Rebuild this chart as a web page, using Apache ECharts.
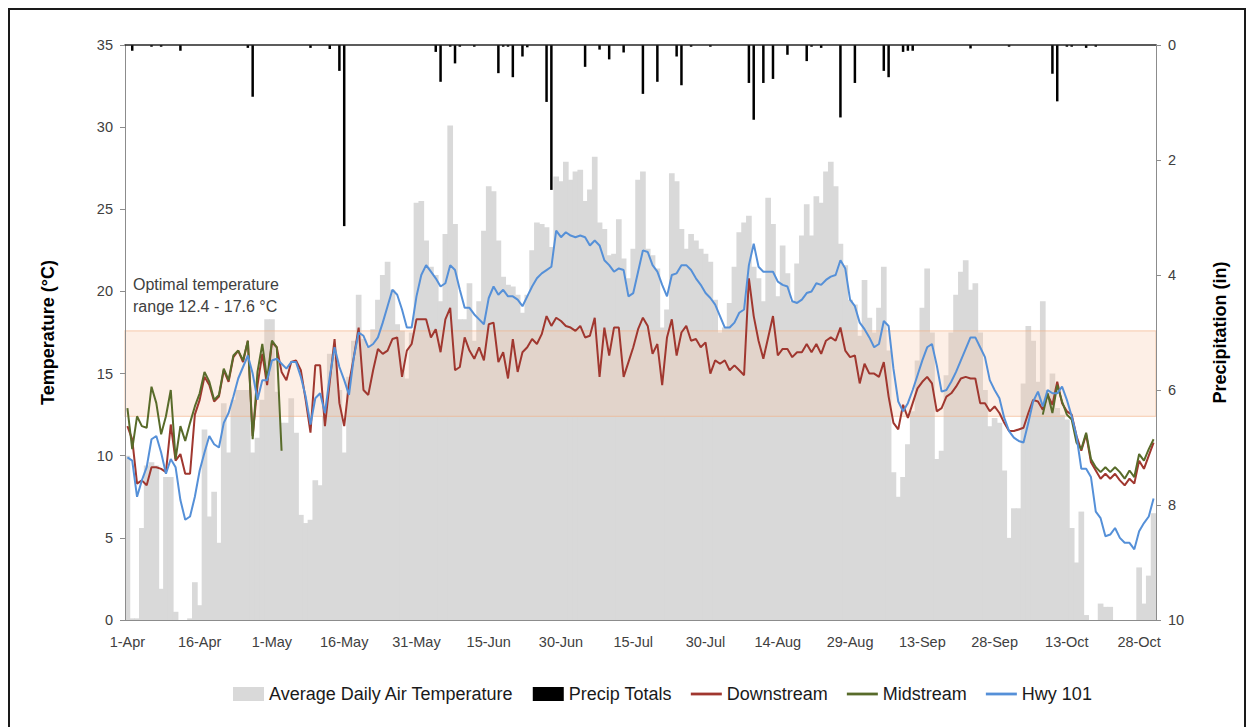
<!DOCTYPE html>
<html><head><meta charset="utf-8">
<script src="https://cdn.jsdelivr.net/npm/echarts@6/dist/echarts.min.js"></script>
<style>
html,body{margin:0;padding:0;background:#fff;}
#chart{position:absolute;left:0;top:0;width:1248px;height:727px;}
#frame{position:absolute;left:8px;top:8px;width:1238px;height:730px;border:2px solid #1a1a1a;border-bottom:none;box-sizing:border-box;pointer-events:none;}
</style></head><body>
<div id="chart"></div><div id="frame"></div>
<script>
// ---- categories: daily dates 1-Apr .. 31-Oct ----
const monthNames = ['Apr','May','Jun','Jul','Aug','Sep','Oct'];
const monthDays  = [30, 31, 30, 31, 31, 30, 31];
const dates = [];
monthNames.forEach((m, k) => { for (let d = 1; d <= monthDays[k]; d++) dates.push(d + '-' + m); });

// ---- Average daily air temperature (°C) ----
const airTemp = [
 10.0,0.1,0.1,5.6,9.4,9.6,9.4,1.9,8.7,8.7,
 0.5,0,0,0.1,2.3,0.9,11.6,6.3,7.8,4.7,
 13.2,10.2,13.4,14.0,14.0,14.0,10.2,11.1,13.4,18.3,
 18.3,13.9,12.0,12.0,13.5,11.4,6.4,5.9,6.1,8.5,
 8.2,12.4,16.2,16.0,14.0,10.2,14.8,17.0,19.8,17.1,
 16.6,17.7,19.5,21.0,21.8,20.1,18.0,17.6,14.7,17.5,
 25.4,25.5,23.1,21.5,21.0,19.4,23.5,30.1,24.1,18.3,
 18.3,20.5,17.0,19.4,23.7,26.4,26.1,23.1,20.9,20.4,
 20.3,19.8,18.7,19.8,22.5,24.2,24.1,23.9,22.7,27.0,
 26.7,27.9,26.8,27.3,27.4,25.5,26.2,28.2,24.2,23.8,
 22.2,22.3,24.4,22.0,20.8,22.6,26.8,27.3,22.6,22.2,
 21.4,17.8,18.9,27.2,26.7,23.8,22.6,23.5,23.1,22.6,
 22.3,21.8,19.5,17.5,17.8,19.3,21.5,23.6,24.2,24.6,
 21.5,20.8,19.4,25.7,24.1,19.7,22.8,21.1,19.4,21.7,
 23.4,25.3,23.4,25.8,25.4,27.3,27.9,26.4,22.9,21.6,
 19.5,19.2,17.3,20.7,18.4,17.5,19.0,21.5,16.4,9.0,
 7.5,8.7,10.7,12.7,15.8,19.0,21.4,17.5,9.8,10.3,
 14.9,17.5,19.8,21.2,21.9,20.1,20.5,17.5,14.0,11.8,
 12.3,12.0,9.1,5.0,6.8,6.8,14.4,17.9,17.0,14.5,
 19.4,14.0,15.0,12.9,12.5,12.2,5.6,3.5,6.6,0.3,
 0,0,1.0,0.8,0.8,0,0,0,0,0,
 3.2,1.0,2.7,6.5
];

// ---- Downstream water temperature (°C) ----
const downstream = [
 11.8,11.0,8.3,8.5,8.2,9.3,9.3,9.2,9.0,11.9,
 9.7,10.1,8.9,8.9,12.5,13.4,14.8,14.3,13.3,13.6,
 15.2,14.5,16.0,16.4,15.7,17.0,11.2,14.3,16.2,14.3,
 16.9,16.6,15.1,14.6,15.7,15.8,15.2,13.4,11.4,15.5,
 15.5,11.8,14.5,17.1,13.2,11.8,14.4,16.0,17.8,14.0,
 13.7,15.2,16.5,16.2,16.4,17.1,17.2,14.8,16.4,16.8,
 18.3,18.3,18.3,17.2,17.7,16.3,18.3,19.0,15.2,15.4,
 17.2,16.4,15.9,16.6,15.8,18.0,18.1,15.7,16.3,14.7,
 17.1,15.1,16.3,16.6,17.1,16.8,17.4,18.5,17.9,18.4,
 18.2,17.9,17.8,17.6,17.9,17.2,17.3,18.4,14.8,17.8,
 16.1,17.8,17.8,14.8,15.7,16.6,17.7,18.4,17.9,16.2,
 16.8,14.3,17.2,18.3,16.1,17.5,17.9,17.0,17.1,16.6,
 16.9,15.0,15.8,15.6,15.8,15.2,15.5,15.2,14.9,20.8,
 18.5,17.0,15.9,17.2,18.5,16.1,16.5,16.5,16.0,16.3,
 16.3,16.8,16.3,16.8,16.2,17.0,17.2,17.0,17.8,16.4,
 16.0,16.1,14.4,15.6,15.0,15.0,14.8,15.7,13.6,12.0,
 11.6,13.1,12.3,13.2,14.1,14.5,14.8,14.4,12.7,12.9,
 13.6,13.8,14.2,14.7,14.8,14.7,14.7,13.2,13.2,12.7,
 13.0,12.6,12.0,11.5,11.5,11.6,11.7,12.6,13.4,13.3,
 12.8,13.7,13.1,14.5,13.2,12.7,12.5,11.2,10.3,11.3,
 9.6,9.1,8.6,8.9,8.6,8.9,8.5,8.2,8.6,8.3,
 9.7,9.2,10.0,10.8
];

// ---- Midstream water temperature (°C): two logged periods ----
const midstreamSpring = [ // 1-Apr .. 3-May
 12.9,10.4,12.4,11.8,11.7,14.2,13.2,11.3,12.4,14.0,
 9.8,11.8,10.9,12.0,13.0,13.8,15.1,14.5,13.4,13.7,
 15.3,14.6,16.1,16.4,15.8,17.0,11.0,15.1,16.8,14.6,
 17.0,16.6,10.3
];
const midstreamFall = [ // 8-Oct .. 31-Oct
 12.5,13.8,12.6,14.3,13.3,12.5,12.2,10.8,10.4,11.4,
 9.8,9.3,9.0,9.3,9.0,9.3,9.0,8.6,9.1,8.7,
 10.1,9.7,10.4,11.0
];

// ---- Hwy 101 water temperature (°C) ----
const hwy101 = [
 9.9,9.7,7.5,8.5,9.3,11.0,11.2,10.2,8.9,9.8,
 9.3,7.3,6.1,6.3,7.5,9.1,10.2,11.2,10.7,10.5,
 12.0,12.6,13.6,14.7,15.4,16.1,15.0,13.4,14.6,14.6,
 15.8,15.9,15.6,15.3,15.7,15.7,14.8,13.6,11.9,13.5,
 13.8,12.6,14.8,16.6,15.4,14.6,13.7,16.0,17.5,17.3,
 16.6,16.8,17.2,18.1,19.1,20.1,19.8,18.9,17.8,17.8,
 19.7,21.0,21.6,21.2,20.8,20.3,20.5,21.6,21.3,20.1,
 19.0,19.0,18.6,18.3,18.0,19.6,20.3,19.8,20.1,19.7,
 19.7,19.5,19.1,19.7,20.3,20.8,21.1,21.3,21.5,23.7,
 23.3,23.6,23.4,23.3,23.4,23.3,22.8,23.1,22.8,21.9,
 21.6,21.2,21.4,21.3,19.7,19.9,21.2,22.5,22.4,21.6,
 21.2,20.4,19.7,21.0,21.1,21.6,21.6,21.3,20.8,20.4,
 19.9,19.6,19.2,18.5,17.8,17.8,18.1,18.7,18.9,21.6,
 22.9,21.5,21.2,21.2,21.2,20.6,20.4,20.3,19.4,19.3,
 19.5,19.9,20.0,20.5,20.4,20.7,20.9,21.0,21.9,21.4,
 19.5,19.1,18.1,17.7,17.2,16.6,16.8,18.2,17.9,15.3,
 13.3,12.7,13.2,14.0,14.9,15.8,16.6,16.8,15.5,13.9,
 14.0,14.5,15.1,15.8,16.5,17.2,17.2,16.6,16.0,14.6,
 14.0,13.5,12.3,11.5,11.1,10.9,10.8,12.0,13.3,13.9,
 13.0,14.0,13.8,13.8,14.2,13.4,12.4,11.2,9.2,9.2,
 8.7,6.6,6.2,5.1,5.2,5.6,5.0,4.7,4.7,4.3,
 5.4,5.9,6.3,7.4
];

// ---- Precipitation totals (in): day index (0 = 1-Apr) and amount ----
const precipDay = [1,5,7,11,25,26,38,42,44,45,64,65,67,68,69,72,77,78,79,80,82,83,87,88,95,98,100,103,107,110,114,115,117,121,129,130,132,134,137,141,142,144,148,151,157,158,161,162,163,175,183,192,193,195,196,199,201];
const precipIn  = [0.1,0.03,0.03,0.1,0.05,0.9,0.05,0.07,0.45,3.15,0.12,0.64,0.03,0.32,0.03,0.03,0.49,0.03,0.03,0.56,0.2,0.04,0.99,2.52,0.38,0.08,0.25,0.13,0.85,0.64,0.2,0.7,0.03,0.03,0.66,1.3,0.66,0.59,0.17,0.28,0.03,0.05,1.26,0.66,0.45,0.56,0.12,0.1,0.1,0.06,0.03,0.5,0.98,0.03,0.03,0.05,0.03];

// ---- Optimal temperature range (°C) ----
const optimalRange = [12.4, 17.6];

// build series tables
const precip = dates.map(() => 0);
precipDay.forEach((d, k) => { precip[d] = precipIn[k]; });
const midstream = dates.map(() => null);
midstreamSpring.forEach((v, k) => { midstream[k] = v; });
const fallStart = dates.length - midstreamFall.length;
midstreamFall.forEach((v, k) => { midstream[fallStart + k] = v; });

const FONT = "'Liberation Sans', Arial, sans-serif";
const AXIS_GRAY = '#8c8c8c';
const LINE_ICON = 'path://M0,0 L100,0 L100,9 L0,9 Z';

const chart = echarts.init(document.getElementById('chart'), null, { renderer: 'svg' });
chart.setOption({
  animation: false,
  textStyle: { fontFamily: FONT },
  grid: { left: 125, right: 92, top: 45, bottom: 107 },
  title: {
    text: 'Optimal temperature\nrange 12.4 - 17.6 °C',
    left: 128, top: 268,
    textStyle: { fontSize: 16, fontWeight: 'normal', color: '#404040', lineHeight: 22, fontFamily: FONT }
  },
  legend: {
    left: 228, top: 680, itemWidth: 31, itemHeight: 14, itemGap: 19,
    textStyle: { fontSize: 18, color: '#1a1a1a', fontFamily: FONT },
    data: [
      { name: 'Average Daily Air Temperature', icon: 'rect' },
      { name: 'Precip Totals', icon: 'rect' },
      { name: 'Downstream', icon: LINE_ICON },
      { name: 'Midstream', icon: LINE_ICON },
      { name: 'Hwy 101', icon: LINE_ICON }
    ]
  },
  xAxis: [
    { type: 'category', data: dates, boundaryGap: true, position: 'bottom', z: 6,
      axisLine: { lineStyle: { color: AXIS_GRAY } },
      axisTick: { interval: 14, length: 5, lineStyle: { color: AXIS_GRAY } },
      axisLabel: { interval: 14, fontSize: 14.5, color: '#404040', margin: 14 } },
    { type: 'category', data: dates, boundaryGap: true, position: 'top', z: 6,
      axisLine: { lineStyle: { color: '#262626', width: 1.5 } },
      axisTick: { show: false }, axisLabel: { show: false } }
  ],
  yAxis: [
    { type: 'value', min: 0, max: 35, interval: 5, position: 'left', z: 6,
      name: 'Temperature (°C)', nameLocation: 'middle', nameGap: 68,
      nameTextStyle: { fontSize: 18, fontWeight: 'bold', color: '#000', fontFamily: FONT },
      axisLine: { show: true, lineStyle: { color: AXIS_GRAY } },
      axisTick: { show: true, length: 5, lineStyle: { color: AXIS_GRAY } },
      axisLabel: { fontSize: 14.5, color: '#404040', margin: 12 },
      splitLine: { show: false } },
    { type: 'value', min: 0, max: 10, interval: 2, inverse: true, position: 'right', z: 6,
      name: 'Precipitation (in)', nameLocation: 'middle', nameGap: 55,
      nameTextStyle: { fontSize: 18, fontWeight: 'bold', color: '#000', fontFamily: FONT },
      axisLine: { show: true, lineStyle: { color: AXIS_GRAY } },
      axisTick: { show: true, length: 5, lineStyle: { color: AXIS_GRAY } },
      axisLabel: { fontSize: 14.5, color: '#404040', margin: 12 },
      splitLine: { show: false } }
  ],
  series: [
    { name: 'Average Daily Air Temperature', type: 'bar', xAxisIndex: 0, yAxisIndex: 0,
      data: airTemp, barWidth: '118%',
      itemStyle: { color: '#d9d9d9' }, z: 1,
      markArea: { silent: true, z: 2,
        itemStyle: { color: 'rgba(248,203,173,0.3)', borderColor: 'rgba(244,176,132,0.5)', borderWidth: 1.2 },
        data: [[{ yAxis: optimalRange[0] }, { yAxis: optimalRange[1] }]] } },
    { name: 'Precip Totals', type: 'bar', xAxisIndex: 1, yAxisIndex: 1,
      data: precip, barWidth: 2.5, itemStyle: { color: '#000' }, z: 4 },
    { name: 'Downstream', type: 'line', xAxisIndex: 0, yAxisIndex: 0, data: downstream,
      symbol: 'none', lineStyle: { width: 2, color: '#a0372f' }, itemStyle: { color: '#a0372f' }, z: 3 },
    { name: 'Midstream', type: 'line', xAxisIndex: 0, yAxisIndex: 0, data: midstream,
      symbol: 'none', connectNulls: false, lineStyle: { width: 2, color: '#586b2a' }, itemStyle: { color: '#586b2a' }, z: 3 },
    { name: 'Hwy 101', type: 'line', xAxisIndex: 0, yAxisIndex: 0, data: hwy101,
      symbol: 'none', lineStyle: { width: 2, color: '#5590d8' }, itemStyle: { color: '#5590d8' }, z: 3 }
  ]
});
</script></body></html>
